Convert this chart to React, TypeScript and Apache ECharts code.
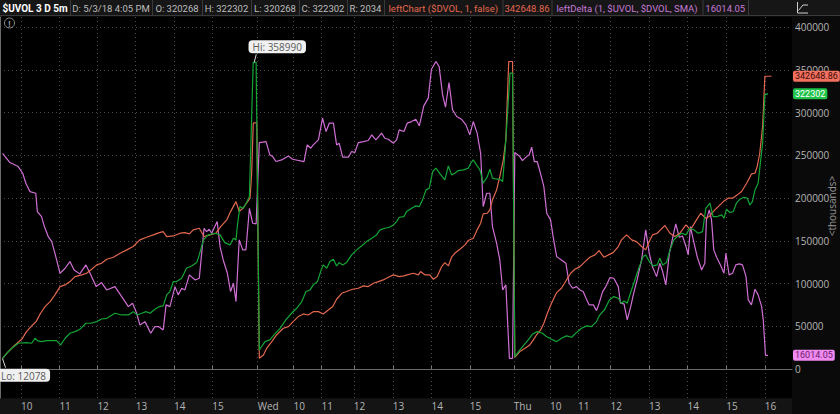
import React, { useEffect, useRef } from "react";
import * as echarts from "echarts";

// ---- x axis: 5-minute bar index, tick labels ----
const xTickBars = [6.6, 18.6, 30.5, 42.5, 54.5, 66.5, 80.7, 91.9, 100.7, 110.8, 123, 135.1, 147.1, 160.9, 172.2, 181, 191.2, 203.2, 215.3, 227.4, 239.5];
const xTickLabels = ["10", "11", "12", "13", "14", "15", "Wed", "10", "11", "12", "13", "14", "15", "Thu", "10", "11", "12", "13", "14", "15", "16"];
const yTicks = [0, 50000, 100000, 150000, 200000, 250000, 300000, 350000, 400000];

// ---- $UVOL (green), values in thousands ----
const uvolBars = [
  0.8, 2.1, 3.7, 5.7, 8.3, 9.9, 11.0, 11.7, 13.0, 14.6, 16.2, 17.7, 19.0, 20.4, 21.9, 23.5, 25.0, 26.9, 28.4, 30.3,
  31.8, 33.4, 36.0, 38.1, 40.2, 41.7, 43.0, 44.4, 45.7, 47.0, 48.5, 49.9, 51.1, 52.2, 53.2, 54.3, 55.3, 56.9, 58.4, 60.0,
  61.6, 62.4, 63.7, 65.2, 67.3, 68.9, 70.4, 72.0, 73.1, 73.9, 74.3, 75.1, 76.2, 77.2, 78.1, 78.8, 79.3, 80.2,
  81.2, 83.0, 84.5, 85.8, 87.7, 89.5, 91.3, 92.9, 94.5, 95.8, 97.1, 98.1, 99.4, 100.4, 101.2, 102.3, 103.3, 104.4, 105.4, 106.2,
  107.3, 108.5, 110.1, 111.7, 113.2, 114.8, 116.4, 117.9, 119.0, 120.5, 121.9, 123.2, 124.2, 125.0, 126.5, 127.3, 128.9, 130.2, 131.3, 132.3,
  133.4, 134.4, 135.5, 136.5, 137.8, 139.3, 140.4, 141.4, 142.4, 143.5, 145.1, 146.6, 147.4, 148.2, 149.4, 150.3, 151.3, 152.6, 153.4, 154.2,
  155.5, 156.5, 157.4, 158.1, 158.8, 159.7, 160.5,
  161.2, 162.8, 164.1, 165.4, 166.8, 168.2, 169.9, 171.1, 172.7, 174.3, 175.8, 177.4, 179.0, 180.5, 182.1, 183.7, 185.2, 186.8, 187.6, 189.4,
  190.8, 192.2, 193.6, 194.6, 195.4, 196.4, 197.4, 198.8, 200.2, 201.4, 202.2, 203.3, 204.5, 205.8, 206.6, 207.5, 208.7, 209.8, 211.0, 212.1,
  213.4, 214.8, 216.0, 217.3, 218.6, 220.0, 221.0, 222.3, 223.3, 224.6, 226.0, 226.7, 227.5, 228.5, 229.6, 230.6, 231.7, 232.9, 234.0, 234.8,
  235.6, 236.4, 237.4, 238.2, 238.8, 239.5, 240.5,
];
const uvolK = [
  12.078, 18.4, 24.2, 30.1, 30.8, 30.1, 35.9, 33.2, 32.0, 33.2, 33.2, 33.2, 28.1, 35.9, 41.8, 43.7, 46.4, 53.5, 53.5, 55.4,
  58.5, 59.3, 65.2, 63.2, 63.2, 67.1, 63.2, 65.2, 67.1, 65.2, 69.9, 73.0, 73.8, 86.7, 90.6, 102.3, 102.3, 106.2, 117.9, 120.6,
  124.5, 133.5, 151.1, 156.9, 158.9, 156.9, 147.9, 145.2, 153.0, 151.1, 166.7, 190.1, 188.1, 194.8, 201.8, 295.5, 358.99, 358.99,
  22.3, 32.0, 34.0, 39.8, 47.6, 57.4, 65.2, 71.0, 78.9, 90.6, 92.5, 98.4, 102.3, 114.0, 121.8, 117.9, 125.7, 128.4, 120.6, 124.5,
  121.8, 124.5, 133.5, 139.4, 144.0, 149.1, 153.0, 156.9, 162.8, 164.7, 165.9, 168.6, 172.5, 177.6, 178.4, 184.2, 188.1, 190.9, 190.1, 197.9,
  209.6, 211.6, 231.1, 235.0, 228.3, 221.3, 237.7, 227.2, 229.1, 232.2, 233.0, 235.0, 240.8, 244.7, 237.7, 233.0, 217.4, 225.2, 233.8, 223.3,
  222.1, 222.1, 219.4, 252.5, 291.6, 346.2, 346.2,
  14.4, 22.3, 28.1, 34.0, 41.0, 43.7, 41.8, 37.9, 34.7, 32.0, 35.9, 38.7, 37.1, 42.5, 47.6, 50.4, 49.6, 55.4, 62.1, 69.9,
  80.8, 84.7, 82.8, 76.9, 79.6, 76.9, 88.6, 104.2, 119.8, 131.5, 133.5, 125.7, 120.6, 121.8, 129.6, 121.8, 124.5, 139.4, 151.1, 155.0,
  158.9, 156.9, 164.7, 162.8, 158.9, 160.8, 188.1, 194.0, 178.4, 178.4, 180.3, 176.4, 187.0, 183.1, 184.2, 194.0, 198.7, 201.0, 199.9, 192.0,
  196.0, 209.6, 217.4, 244.7, 264.3, 320.9, 322.302,
];

// ---- leftChart $DVOL (salmon), values in thousands ----
const dvolBars = [
  0.8, 2.6, 4.7, 6.8, 8.3, 10.2, 11.3, 12.7, 14.1, 15.7, 17.2, 18.8, 20.4, 21.9, 23.5, 25.6, 27.1, 28.7, 30.3, 31.8,
  33.4, 35.5, 37.6, 39.7, 41.7, 43.8, 45.9, 48.0, 49.9, 51.1, 52.2, 54.3, 56.4, 57.9, 59.3, 60.5, 62.4, 63.9, 65.8, 67.6,
  69.1, 71.0, 72.2, 73.9, 74.9, 76.0, 77.2, 78.3, 78.8, 79.3, 80.4,
  81.2, 82.5, 83.5, 85.1, 86.6, 88.7, 90.3, 91.8, 93.4, 95.0, 96.5, 98.1, 99.7, 101.2, 102.8, 104.2, 105.4, 107.0, 108.5, 110.4,
  112.2, 113.8, 115.3, 116.9, 118.5, 120.0, 121.6, 123.2, 125.0, 126.5, 127.5, 129.4, 131.0, 131.7, 133.1, 134.6, 135.7, 136.9, 138.3, 139.3,
  140.4, 141.4, 142.4, 144.0, 145.6, 146.6, 148.2, 149.4, 150.5, 151.3, 152.6, 153.4, 154.2, 155.5, 156.5, 157.6, 158.4, 158.8, 159.3, 160.5,
  161.2, 162.8, 164.4, 165.9, 167.0, 168.0, 169.3, 170.3, 171.4, 172.7, 174.3, 175.8, 177.4, 178.7, 180.0, 181.6, 183.2, 184.7, 186.3, 187.6,
  189.1, 190.5, 192.0, 193.6, 194.6, 196.2, 197.8, 199.3, 200.9, 202.2, 203.3, 204.3, 205.8, 206.8, 208.2, 209.8, 211.3, 212.9, 214.8, 216.2,
  218.1, 219.4, 221.0, 222.1, 223.3, 224.9, 226.5, 228.0, 229.4, 230.9, 232.2, 233.8, 235.3, 236.4, 237.1, 237.9, 238.8, 239.5, 240.0, 241.6,
];
const dvolK = [
  12.5, 20.3, 28.1, 34.7, 43.7, 51.5, 55.4, 65.2, 73.0, 78.9, 86.7, 96.4, 98.4, 102.3, 108.1, 110.1, 112.0, 116.7, 121.8, 123.7,
  128.4, 130.8, 135.4, 139.4, 143.3, 151.1, 154.2, 156.9, 159.6, 160.8, 154.9, 155.7, 158.9, 159.6, 158.1, 162.8, 164.7, 155.0, 156.9, 158.9,
  166.7, 174.5, 184.2, 195.9, 184.2, 188.1, 194.0, 199.9, 229.1, 287.7, 288.5,
  12.5, 16.4, 24.2, 32.0, 39.8, 47.6, 49.6, 55.4, 61.3, 64.4, 63.2, 67.1, 67.1, 64.4, 69.1, 73.0, 81.6, 88.6, 90.6, 93.3,
  94.5, 97.2, 96.4, 100.3, 102.3, 104.2, 107.3, 110.1, 108.1, 108.9, 110.1, 112.0, 110.1, 114.0, 110.1, 110.1, 105.0, 108.1, 119.8, 124.5,
  120.6, 130.8, 135.4, 140.1, 145.2, 150.3, 153.0, 162.8, 170.6, 181.5, 182.3, 186.2, 197.9, 209.6, 225.2, 244.7, 268.2, 311.1, 359.9, 359.9,
  13.7, 20.3, 24.2, 28.1, 34.0, 39.8, 45.7, 53.5, 65.2, 76.9, 89.4, 94.5, 104.2, 112.0, 116.7, 119.8, 125.7, 130.8, 133.5, 138.6,
  130.8, 133.5, 136.2, 143.3, 151.1, 156.9, 151.1, 149.1, 143.3, 139.4, 149.1, 156.9, 158.9, 162.8, 167.9, 158.9, 155.0, 158.9, 168.6, 162.8,
  174.5, 182.3, 176.4, 178.4, 184.2, 190.1, 195.9, 199.9, 199.9, 203.8, 207.7, 217.4, 228.3, 229.1, 236.9, 252.5, 283.8, 342.6, 342.64886, 342.64886,
];

// ---- leftDelta SMA (violet), values in thousands ----
const deltaBars = [
  0.8, 3.1, 5.7, 7.1, 8.1, 9.4, 11.2, 11.7, 13.0, 13.9, 15.1, 16.2, 17.2, 18.8, 20.4, 21.9, 23.2, 25.0, 26.9, 28.2,
  30.1, 31.8, 33.4, 36.0, 38.1, 40.2, 41.5, 42.8, 43.8, 45.4, 47.2, 48.5, 49.6, 51.1, 52.0, 53.2, 54.8, 55.8, 56.9, 57.9,
  59.3, 61.1, 62.4, 63.9, 64.7, 65.5, 66.3, 67.0, 68.0, 68.9, 69.9, 71.2, 72.2, 73.1, 73.9, 74.9, 76.0, 77.0, 78.1, 79.1, 80.2,
  81.2, 83.3, 84.5, 85.4, 86.4, 88.2, 90.3, 91.6, 95.2, 96.2, 97.3, 98.1, 99.7, 101.0, 102.1, 103.1, 104.4, 105.4, 106.2, 107.3,
  109.1, 110.1, 111.1, 112.2, 113.8, 115.3, 116.4, 117.7, 119.5, 120.5, 121.6, 123.2, 124.2, 125.0, 126.5, 127.5, 128.9, 130.2, 131.3, 132.7,
  134.1, 135.1, 136.5, 137.5, 138.6, 139.5, 140.6, 141.7, 143.0, 144.5, 145.9, 147.1, 148.2, 149.4, 150.5, 151.3, 152.4, 153.4, 154.2, 155.5,
  156.5, 157.4, 158.4, 159.5, 160.5,
  161.2, 162.6, 163.6, 164.9, 165.7, 166.5, 167.3, 168.2, 169.1, 170.3, 171.2, 172.4, 173.2, 174.3, 175.8, 177.2, 178.2, 179.3, 180.5, 181.6,
  182.6, 183.5, 184.5, 185.8, 186.8, 187.6, 188.7, 189.7, 191.0, 192.2, 193.6, 194.3, 195.4, 196.4, 197.5, 198.3, 199.5, 200.9, 202.2, 203.3,
  204.3, 205.6, 206.6, 207.5, 208.5, 209.6, 210.6, 211.6, 212.7, 213.7, 214.8, 215.5, 216.2, 217.1, 218.3, 219.7, 220.7, 221.2, 222.1, 222.8,
  223.5, 224.4, 225.6, 226.7, 227.3, 228.3, 229.4, 230.4, 231.5, 232.5, 233.6, 234.3, 235.3, 236.4, 237.4, 238.5, 239.0, 239.7, 240.5,
];
const deltaK = [
  252.5, 241.6, 236.9, 229.1, 217.4, 207.6, 205.7, 184.2, 178.4, 166.7, 155.0, 149.1, 135.4, 112.0, 117.9, 125.7, 115.9, 111.3, 121.8, 112.0,
  96.4, 101.1, 92.5, 96.4, 84.7, 73.0, 76.9, 65.2, 51.5, 55.4, 41.8, 49.6, 49.6, 45.7, 75.0, 73.0, 96.4, 86.7, 94.5, 92.5,
  110.1, 104.2, 106.2, 164.7, 160.8, 163.6, 158.9, 164.7, 172.5, 143.3, 127.6, 112.0, 90.6, 100.3, 78.9, 151.1, 139.4, 139.4, 188.1, 170.6, 169.8,
  265.0, 266.2, 250.6, 248.6, 242.8, 244.7, 249.4, 245.5, 242.8, 262.3, 258.4, 262.3, 268.2, 293.5, 277.9, 287.7, 287.7, 262.3, 264.3, 247.9,
  247.9, 254.5, 253.3, 265.0, 266.2, 267.4, 274.0, 268.2, 276.0, 270.1, 268.9, 264.3, 268.2, 279.9, 277.9, 287.7, 289.6, 292.4, 284.6, 308.0,
  317.0, 350.9, 359.9, 354.0, 320.9, 306.4, 335.3, 303.3, 295.5, 292.4, 285.7, 274.0, 289.6, 276.0, 252.5, 190.1, 205.7, 205.7, 166.7, 147.2,
  127.6, 92.5, 98.4, 12.5, 12.5,
  253.3, 249.4, 243.9, 248.6, 250.6, 259.6, 242.8, 242.8, 231.1, 213.5, 182.3, 174.5, 155.0, 131.5, 127.6, 123.7, 100.3, 94.5, 96.4, 92.5,
  90.6, 82.8, 75.0, 75.0, 68.3, 76.9, 90.6, 96.4, 107.0, 106.2, 96.4, 76.9, 76.1, 57.4, 73.0, 86.7, 104.2, 127.6, 162.8, 135.4,
  119.8, 108.1, 123.7, 114.0, 98.4, 135.4, 153.0, 169.8, 154.2, 155.7, 143.3, 133.5, 166.7, 151.1, 131.5, 115.9, 123.7, 174.5, 186.2, 174.5,
  139.4, 130.8, 121.8, 112.0, 135.4, 110.1, 112.0, 121.8, 123.0, 121.8, 108.1, 80.8, 75.0, 93.3, 86.7, 73.0, 57.4, 16.01405, 16.01405,
];

// ---- header texts ----
const headerTexts = [
  "$UVOL 3 D 5m", "D: 5/3/18 4:05 PM", "O: 320268", "H: 322302", "L: 320268", "C: 322302", "R: 2034",
  "leftChart ($DVOL, 1, false)", "342648.86", "leftDelta (1, $UVOL, $DVOL, SMA)", "16014.05",
];

const FONT = "'Open Sans', 'Noto Sans', sans-serif";
const HFONT = "Roboto, 'Noto Sans', sans-serif";
const GREEN = "#12a536";
const SALMON = "#e2674f";
const VIOLET = "#cf6fd4";

export default function App() {
  const ref = useRef<HTMLDivElement>(null);

  useEffect(() => {
    if (!ref.current) return;
    const chart = echarts.init(ref.current, null, { renderer: "svg" });
    const pairs = (b: number[], v: number[]) => b.map((x, i) => [x, Math.round(v[i] * 100000) / 100]);
    const uvol = pairs(uvolBars, uvolK);
    const dvol = pairs(dvolBars, dvolK);
    const delta = pairs(deltaBars, deltaK);
    const lastU = uvol[uvol.length - 1][1];
    const lastD = dvol[dvol.length - 1][1];
    const lastDelta = delta[delta.length - 1][1];

    const option: any = {
      animation: false,
      backgroundColor: "#0a0a0a",
      textStyle: { fontFamily: FONT },
      grid: { left: 0, right: 48, top: 17, bottom: 16, show: true, backgroundColor: "#000000", borderWidth: 0 },
      xAxis: {
        type: "value",
        min: 0,
        max: 248,
        axisLine: { show: true, lineStyle: { color: "#6a6a6a", width: 1 } },
        axisTick: { show: true, inside: true, length: 3, customValues: xTickBars, lineStyle: { color: "#7a7a7a" } },
        axisLabel: {
          show: true,
          customValues: xTickBars,
          color: "#b5b5b5",
          fontSize: 10,
          fontFamily: FONT,
          align: "left",
          margin: 3,
          formatter: (v: number) => {
            let best = 0;
            xTickBars.forEach((b, i) => {
              if (Math.abs(b - v) < Math.abs(xTickBars[best] - v)) best = i;
            });
            return xTickLabels[best];
          },
        },
        splitLine: { show: true, lineStyle: { color: "#4a4a4a", type: [1, 3], width: 1 } },
      },
      yAxis: {
        type: "value",
        position: "right",
        min: -34000,
        max: 412000,
        axisLine: { show: true, lineStyle: { color: "#6a6a6a", width: 1 } },
        axisTick: { show: false, customValues: yTicks },
        axisLabel: {
          show: true,
          customValues: yTicks,
          color: "#b5b5b5",
          fontSize: 10,
          fontFamily: FONT,
          margin: 3,
          align: "left",
          formatter: (v: number) => String(Math.round(v)),
        },
        splitLine: { show: true, lineStyle: { color: "#4a4a4a", type: [1, 3], width: 1 } },
      },
      series: [
        { name: "leftDelta", type: "line", data: delta, showSymbol: false, lineStyle: { color: VIOLET, width: 1.2 }, itemStyle: { color: VIOLET } },
        { name: "leftChart", type: "line", data: dvol, showSymbol: false, lineStyle: { color: SALMON, width: 1.2 }, itemStyle: { color: SALMON } },
        {
          name: "$UVOL",
          type: "line",
          data: uvol,
          showSymbol: false,
          lineStyle: { color: GREEN, width: 1.2 },
          itemStyle: { color: GREEN },
          markPoint: {
            symbol: "circle",
            symbolSize: 2,
            itemStyle: { color: "rgba(0,0,0,0)" },
            label: {
              show: true,
              backgroundColor: "#f0f0f0",
              color: "#5a5a5a",
              fontSize: 10,
              fontFamily: FONT,
              padding: [2, 4, 1, 4],
              borderRadius: 4,
            },
            data: [
              { type: "max", name: "Hi", label: { position: "top", offset: [24, -3], formatter: (p: any) => "Hi: " + Math.round(p.value) } },
              { type: "min", name: "Lo", label: { position: "bottom", offset: [21, 4], formatter: (p: any) => "Lo: " + Math.round(p.value) } },
            ],
          },
        },
      ],
    };
    chart.setOption(option);

    // ---- decorations (header, last-value tags, callout pointers) ----
    const edges = [0, 70, 152, 202, 251, 299, 347, 384, 502.5, 551.5, 702.5, 748];
    const headerColors = ["#ffffff", "#bdbdbd", "#bdbdbd", "#bdbdbd", "#bdbdbd", "#bdbdbd", "#bdbdbd", SALMON, SALMON, "#c67ad6", "#c67ad6"];
    const els: any[] = [
      { type: "rect", shape: { x: 0, y: 0, width: 840, height: 15 }, style: { fill: "#161616" }, z: 5 },
      { type: "line", shape: { x1: 0, y1: 15.5, x2: 840, y2: 15.5 }, style: { stroke: "#3a3a3a", lineWidth: 1 }, z: 6 },
    ];
    headerTexts.forEach((t, i) => {
      els.push({
        type: "text",
        x: (edges[i] + edges[i + 1]) / 2,
        y: 8,
        z: 7,
        style: {
          text: t,
          fill: headerColors[i],
          font: `${i === 0 ? "bold 10px" : "9.5px"} ${HFONT}`,
          textAlign: "center",
          textVerticalAlign: "middle",
        },
      });
      els.push({
        type: "line",
        shape: { x1: edges[i + 1] + 0.5, y1: 0, x2: edges[i + 1] + 0.5, y2: 15 },
        style: { stroke: "#3a3a3a", lineWidth: 1 },
        z: 6,
      });
    });
    els.push({ type: "polyline", shape: { points: [[797.5, 2], [797.5, 13], [808, 13]] }, style: { stroke: "#cfcfcf", lineWidth: 1, fill: "none" }, z: 7 });
    els.push({ type: "polyline", shape: { points: [[798.5, 10.5], [803, 5], [808, 5]] }, style: { stroke: "#cfcfcf", lineWidth: 1, fill: "none" }, z: 7 });
    els.push({ type: "rect", shape: { x: 0, y: 398.5, width: 792, height: 16 }, style: { fill: "#141414" }, z: -1 });
    els.push({ type: "circle", shape: { cx: 9.5, cy: 23, r: 5 }, style: { stroke: "#8a8a8a", fill: "none", lineWidth: 1 }, z: 4 });
    els.push({ type: "text", x: 9.5, y: 23.5, z: 4, style: { text: "!", fill: "#9a9a9a", font: `bold 8px ${FONT}`, textAlign: "center", textVerticalAlign: "middle" } });
    els.push({
      type: "text", x: 832, y: 206, rotation: Math.PI / 2, z: 4,
      style: { text: "<thousands>", fill: "#9a9a9a", font: `10px ${FONT}`, textAlign: "center", textVerticalAlign: "middle" },
    });

    // callout pointers for Hi / Lo
    let iMax = 0;
    let iMin = 0;
    uvol.forEach((p, i) => {
      if (p[1] > uvol[iMax][1]) iMax = i;
      if (p[1] < uvol[iMin][1]) iMin = i;
    });
    const pMax = chart.convertToPixel({ gridIndex: 0 }, uvol[iMax]) as number[];
    const pMin = chart.convertToPixel({ gridIndex: 0 }, uvol[iMin]) as number[];
    els.push({ type: "line", shape: { x1: pMax[0] + 1, y1: pMax[1], x2: pMax[0] + 3, y2: pMax[1] - 8 }, style: { stroke: "#d8d8d8", lineWidth: 1 }, z: 8 });
    els.push({ type: "line", shape: { x1: pMin[0], y1: pMin[1], x2: pMin[0] + 3, y2: pMin[1] + 9 }, style: { stroke: "#d8d8d8", lineWidth: 1 }, z: 8 });

    const tags = [
      { v: lastD, text: lastD.toFixed(2), bg: "#f2705f", fg: "#3a0a05" },
      { v: lastU, text: String(Math.round(lastU)), bg: "#1fc34a", fg: "#ffffff" },
      { v: lastDelta, text: lastDelta.toFixed(2), bg: "#f08af0", fg: "#6a1a6a" },
    ];
    tags.forEach((t) => {
      const py = chart.convertToPixel({ yAxisIndex: 0 }, t.v) as number;
      els.push({
        type: "text",
        x: 793,
        y: py,
        z: 8,
        style: {
          text: t.text,
          fill: t.fg,
          font: `9px ${HFONT}`,
          textAlign: "left",
          textVerticalAlign: "middle",
          backgroundColor: t.bg,
          padding: [1, 2, 1, 2],
          borderRadius: 2,
        },
      });
    });
    chart.setOption({ graphic: els });

    return () => chart.dispose();
  }, []);

  return <div ref={ref} style={{ position: "fixed", left: 0, top: 0, width: 840, height: 414 }} />;
}
